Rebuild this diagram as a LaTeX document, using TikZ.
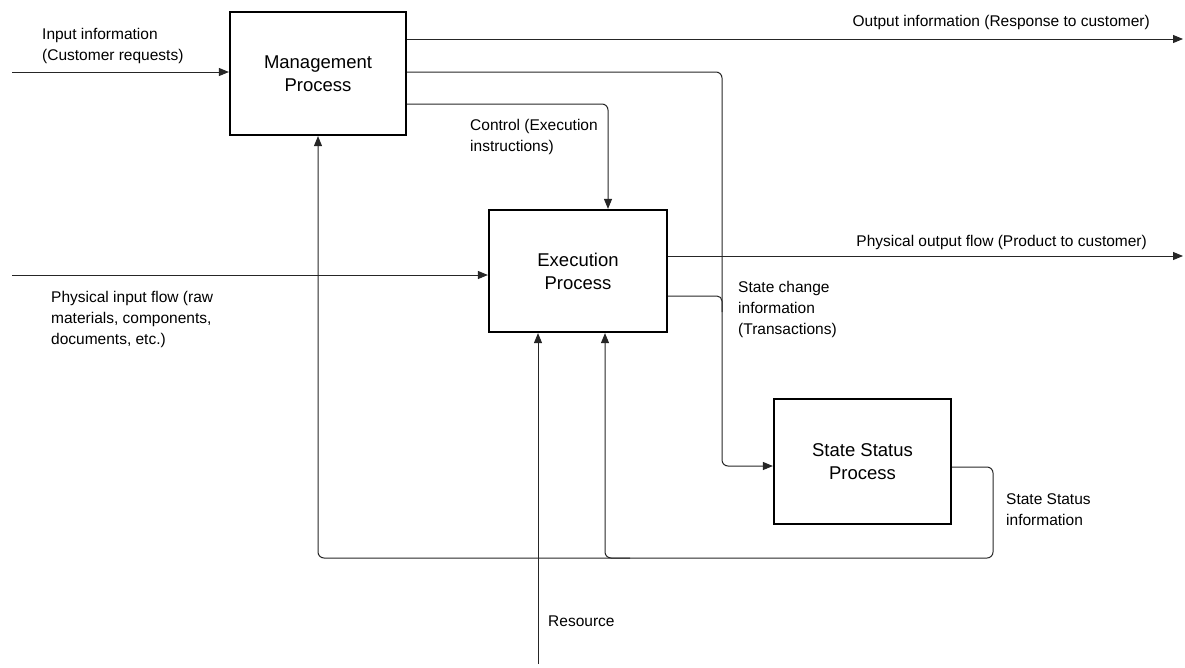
\documentclass[tikz,border=0pt]{standalone}
\usepackage{fontspec}
\setmainfont{Liberation Sans}
\usetikzlibrary{arrows.meta}
\begin{document}
\begin{tikzpicture}[x=1pt,y=-1pt,
  procbox/.style={draw=black, line width=2.2pt, align=center, inner sep=0pt,
    font=\fontsize{18.5}{23}\selectfont},
  line/.style={draw=black!85, line width=1pt},
  flow/.style={line, -{Triangle[length=10pt,width=8pt]}},
  lbl/.style={align=left, inner sep=0pt, font=\fontsize{15.5}{21}\selectfont},
  lblr/.style={inner sep=0pt, font=\fontsize{15.5}{21}\selectfont}]
\useasboundingbox (0,0) rectangle (1185,667);

% process boxes
\node[procbox, minimum width=176pt, minimum height=123pt] (mgmt) at (318,73.5) {Management\\Process};
\node[procbox, minimum width=178pt, minimum height=122pt] (exec) at (578,271) {Execution\\Process};
\node[procbox, minimum width=177pt, minimum height=125pt] (ssp) at (862.5,461.5) {State Status\\Process};

% route points
\coordinate (inA) at (12,72);
\coordinate (outA) at (1183,39);
\coordinate (j1) at (722,72);
\coordinate (j2) at (722,466);
\coordinate (c1) at (608,104);
\coordinate (pin) at (12,275);
\coordinate (pout) at (1183,256);
\coordinate (sc) at (722,296);
\coordinate (sc2) at (722,312);
\coordinate (f1) at (993,467);
\coordinate (f2) at (993,558);
\coordinate (f3) at (318,558);
\coordinate (b0) at (630,558);
\coordinate (b1) at (605,558);
\coordinate (res) at (538,664);

% connectors
\draw[flow] (inA) -- (inA -| mgmt.west);
\draw[flow] (mgmt.east |- outA) -- (outA);
\draw[flow, rounded corners=6pt] (mgmt.east |- j1) -- (j1) -- (j2) -- (j2 -| ssp.west);
\draw[flow, rounded corners=6pt] (mgmt.east |- c1) -- (c1) -- (c1 |- exec.north);
\draw[flow] (pin) -- (pin -| exec.west);
\draw[flow] (exec.east |- pout) -- (pout);
\draw[line, rounded corners=5pt] (exec.east |- sc) -- (sc) -- (sc2);
\draw[flow, rounded corners=6pt] (ssp.east |- f1) -- (f1) -- (f2) -- (f3) -- (f3 |- mgmt.south);
\draw[flow, rounded corners=6pt] (b0) -- (b1) -- (b1 |- exec.south);
\draw[flow] (res) -- (res |- exec.south);

% labels (anchored on the baseline of their last line)
\node[lbl, anchor=base west] (lin) at (42,60) {Input information\\(Customer requests)};
\node[lblr, anchor=base east] (lout) at (1150,26) {Output information (Response to customer)};
\node[lbl, anchor=base west] (lctl) at (470,151) {Control (Execution\\instructions)};
\node[lblr, anchor=base east] (lpout) at (1147,246) {Physical output flow (Product to customer)};
\node[lbl, anchor=base west] (lpin) at (51,344) {Physical input flow (raw\\materials, components,\\documents, etc.)};
\node[lbl, anchor=base west] (lsc) at (738,334) {State change\\information\\(Transactions)};
\node[lbl, anchor=base west] (lssi) at (1006,525) {State Status\\information};
\node[lblr, anchor=base west] (lres) at (548,626) {Resource};
\end{tikzpicture}
\end{document}
